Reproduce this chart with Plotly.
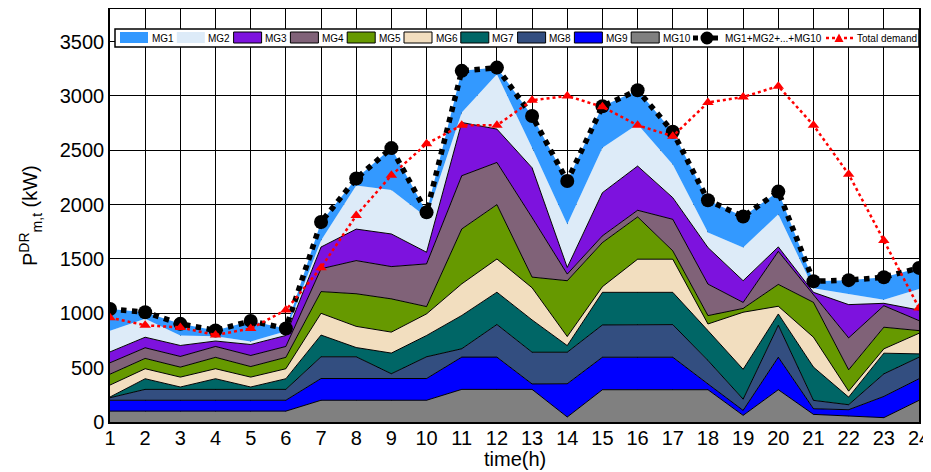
import plotly.graph_objects as go

hours = list(range(1, 25))
MG1 = [200, 60, 107, 52, 190, 25, 170, 65, 386, 46, 383, 61, 292, 397, 382, 313, 300, 297, 285, 209, 65, 128, 207, 195]
MG2 = [195, 170, 92, 45, 27, 39, 60, 400, 404, 321, 92, 505, 184, 398, 413, 385, 306, 138, 305, 300, 37, 97, 33, 193]
MG3 = [100, 97, 101, 50, 101, 101, 200, 290, 300, 107, 490, 307, 458, 61, 397, 407, 199, 336, 200, 41, 22, 306, 22, 97]
MG4 = [105, 98, 98, 100, 102, 100, 210, 305, 297, 393, 490, 388, 548, 61, 62, 61, 290, 290, 55, 304, 70, 294, 198, 92]
MG5 = [100, 95, 92, 105, 97, 105, 200, 300, 306, 67, 505, 500, 98, 514, 406, 389, 77, 77, 35, 201, 321, 196, 199, 25]
MG6 = [110, 92, 91, 92, 91, 92, 200, 195, 193, 199, 291, 306, 296, 83, 52, 305, 305, 61, 525, 71, 275, 55, 40, 189]
MG7 = [7, 98, 22, 98, 22, 98, 200, 85, 190, 196, 306, 297, 297, 61, 300, 300, 297, 275, 275, 104, 306, 70, 190, 31]
MG8 = [23, 100, 100, 100, 100, 100, 200, 200, 44, 200, 77, 300, 292, 290, 297, 297, 300, 216, 103, 294, 77, 46, 208, 198]
MG9 = [100, 100, 100, 100, 100, 100, 200, 200, 200, 200, 297, 297, 50, 306, 299, 299, 299, 53, 46, 299, 52, 61, 195, 199]
MG10 = [100, 100, 100, 100, 100, 100, 200, 200, 200, 200, 300, 300, 300, 46, 297, 297, 297, 297, 61, 297, 70, 52, 40, 199]
demand = [960, 890, 870, 800, 860, 1030, 1420, 1900, 2270, 2560, 2730, 2730, 2960, 3000,
          2900, 2730, 2630, 2940, 2990, 3090, 2730, 2280, 1670, 1050]
y_ticks = [0, 500, 1000, 1500, 2000, 2500, 3000, 3500]

names = ["MG1", "MG2", "MG3", "MG4", "MG5", "MG6", "MG7", "MG8", "MG9", "MG10"]
series = [MG1, MG2, MG3, MG4, MG5, MG6, MG7, MG8, MG9, MG10]
colors = ["#3399FF", "#DDEBF8", "#7D12DE", "#806278", "#669900",
          "#F2DEBF", "#006666", "#334E80", "#0000FF", "#808080"]
edged = [False, False, True, True, True, True, True, True, True, True]

total = [sum(v) for v in zip(*series)]

FONT = "Liberation Sans, Arial, sans-serif"
OFF = 8  # default body margin of the page
W, H = 931 - OFF, 472 - OFF
ML, MR, MT, MB = 110 - OFF, 12, 9 - OFF, 50
PW, PH = W - ML - MR, H - MT - MB

fig = go.Figure()
for i in range(9, -1, -1):
    fig.add_trace(go.Scatter(
        x=hours, y=series[i], name=names[i], mode="lines", stackgroup="one",
        fillcolor=colors[i],
        line=dict(color="black" if edged[i] else colors[i], width=1 if edged[i] else 0),
        showlegend=False))

fig.add_trace(go.Scatter(
    x=hours, y=total, name="MG1+MG2+...+MG10", mode="lines+markers",
    line=dict(color="black", width=5.5, dash="dot"),
    marker=dict(symbol="circle", size=14, color="black"), showlegend=False))
fig.add_trace(go.Scatter(
    x=hours, y=demand, name="Total demand", mode="lines+markers",
    line=dict(color="red", width=2.5, dash="dot"),
    marker=dict(symbol="triangle-up", size=10, color="red"), showlegend=False))

# manual legend (page pixel positions converted to paper coords)
def px(x):
    return (x - OFF - ML) / PW

def py(y):
    return (OFF + H - MB - y) / PH

shapes = []
annotations = []
shapes.append(dict(type="rect", xref="paper", yref="paper",
                   x0=px(115), x1=px(919), y0=py(47), y1=py(29),
                   fillcolor="white", line=dict(color="black", width=1.5), layer="above"))
for i in range(10):
    x0 = 120 + i * 56.8
    shapes.append(dict(type="rect", xref="paper", yref="paper",
                       x0=px(x0), x1=px(x0 + 28), y0=py(43), y1=py(32),
                       fillcolor=colors[i],
                       line=dict(color="black", width=1 if edged[i] else 0),
                       layer="above"))
    annotations.append(dict(xref="paper", yref="paper", x=px(x0 + 29.5), y=py(38.5),
                            text=names[i], showarrow=False, xanchor="left", yanchor="middle",
                            font=dict(family=FONT, size=10, color="black")))
# sum line sample
shapes.append(dict(type="line", xref="paper", yref="paper", x0=px(693), x1=px(721),
                   y0=py(38), y1=py(38), line=dict(color="black", width=5, dash="dot"), layer="above"))
shapes.append(dict(type="circle", xref="paper", yref="paper", x0=px(700.5), x1=px(713.5),
                   y0=py(44.5), y1=py(31.5), fillcolor="black", line=dict(color="black", width=0),
                   layer="above"))
annotations.append(dict(xref="paper", yref="paper", x=px(723), y=py(38.5),
                        text="MG1+MG2+...+MG10", showarrow=False, xanchor="left", yanchor="middle",
                        font=dict(family=FONT, size=10, color="black")))
# demand sample
shapes.append(dict(type="line", xref="paper", yref="paper", x0=px(826), x1=px(853),
                   y0=py(38), y1=py(38), line=dict(color="red", width=2.5, dash="dot"), layer="above"))
tri = "M {} {} L {} {} L {} {} Z".format(px(834.5), py(42), px(843.5), py(42), px(839), py(33.5))
shapes.append(dict(type="path", xref="paper", yref="paper", path=tri, fillcolor="red",
                   line=dict(color="red", width=0), layer="above"))
annotations.append(dict(xref="paper", yref="paper", x=px(855), y=py(38.5),
                        text="Total demand", showarrow=False, xanchor="left", yanchor="middle",
                        font=dict(family=FONT, size=10, color="black")))

# axis titles
annotations.append(dict(xref="paper", yref="paper", x=px(515), y=py(459),
                        text="time(h)", showarrow=False, xanchor="center", yanchor="middle",
                        font=dict(family=FONT, size=20, color="black")))
annotations.append(dict(xref="paper", yref="paper", x=px(30), y=py(216),
                        text="P<sup>DR</sup><sub>m,t</sub> (kW)", textangle=-90,
                        showarrow=False, xanchor="center", yanchor="middle",
                        font=dict(family=FONT, size=20, color="black")))

fig.update_layout(
    width=W, height=H,
    margin=dict(l=ML, r=MR, t=MT, b=MB, autoexpand=False),
    plot_bgcolor="white", paper_bgcolor="white",
    font=dict(family=FONT, size=20, color="black"),
    shapes=shapes, annotations=annotations,
    showlegend=False,
)
fig.update_xaxes(
    range=[1, 24], tickmode="array", tickvals=hours, ticktext=[str(h) for h in hours],
    showgrid=True, gridcolor="black", gridwidth=1,
    showline=True, linecolor="black", linewidth=1.5, mirror=True,
    ticks="", zeroline=False, automargin=False, ticklabelstandoff=-3,
    tickfont=dict(family=FONT, size=20, color="black"),
)
fig.update_yaxes(
    range=[0, 3800], tickmode="array", tickvals=y_ticks, ticktext=[str(v) for v in y_ticks],
    showgrid=True, gridcolor="black", gridwidth=1,
    showline=True, linecolor="black", linewidth=1.5, mirror=True,
    ticks="", zeroline=False, automargin=False,
    tickfont=dict(family=FONT, size=20, color="black"),
)

fig.write_html("out.html")
